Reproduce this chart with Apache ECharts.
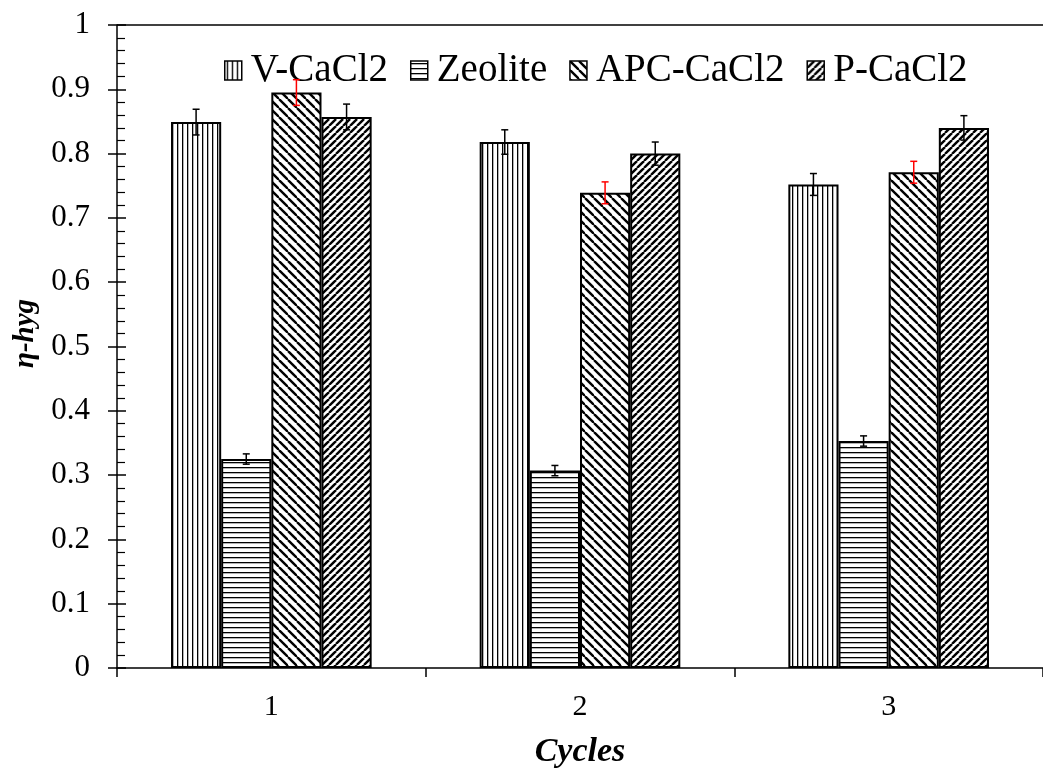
<!DOCTYPE html>
<html>
<head>
<meta charset="utf-8">
<script src="https://cdn.jsdelivr.net/npm/echarts@6/dist/echarts.min.js"></script>
<style>
  html, body { margin: 0; padding: 0; background: #fff; }
  #chart { width: 1043px; height: 774px; }
</style>
</head>
<body>
<div id="chart"></div>
<script>
// Hygroscopic efficiency per cycle for four sorbents
const cycles = ['1', '2', '3'];
const seriesNames = ['V-CaCl2', 'Zeolite', 'APC-CaCl2', 'P-CaCl2'];

const vCaCl2 = [0.849, 0.818, 0.752];
const zeolite = [0.325, 0.307, 0.353];
const apcCaCl2 = [0.895, 0.739, 0.771];
const pCaCl2 = [0.857, 0.800, 0.840];

const vCaCl2Err = [0.020, 0.019, 0.017];
const zeoliteErr = [0.008, 0.008, 0.008];
const apcCaCl2Err = [0.020, 0.017, 0.017];
const pCaCl2Err = [0.020, 0.018, 0.019];

const FONT = 'Liberation Serif';
const CATEGORY_GAP = 0.35;

// Hatch fills drawn on small tiles
function hatch(kind) {
  const c = document.createElement('canvas');
  const ctx = c.getContext('2d');
  let s;
  if (kind === 'vertical') {
    c.width = 5; c.height = 5;
    ctx.fillStyle = '#fff'; ctx.fillRect(0, 0, 5, 5);
    ctx.fillStyle = '#000'; ctx.fillRect(2, 0, 1.3, 5);
  } else if (kind === 'horizontal') {
    c.width = 5; c.height = 5;
    ctx.fillStyle = '#fff'; ctx.fillRect(0, 0, 5, 5);
    ctx.fillStyle = '#000'; ctx.fillRect(0, 2, 5, 1.3);
  } else {
    s = kind === 'back' ? 9 : 7;
    c.width = s; c.height = s;
    ctx.fillStyle = '#fff'; ctx.fillRect(0, 0, s, s);
    ctx.strokeStyle = '#000';
    ctx.lineWidth = 2.4;
    for (const o of [-s, 0, s]) {
      ctx.beginPath();
      if (kind === 'back') { ctx.moveTo(o, 0); ctx.lineTo(o + s, s); }
      else { ctx.moveTo(o, s); ctx.lineTo(o + s, 0); }
      ctx.stroke();
    }
  }
  return { image: c, repeat: 'repeat' };
}

const fills = [hatch('vertical'), hatch('horizontal'), hatch('back'), hatch('forward')];
const values = [vCaCl2, zeolite, apcCaCl2, pCaCl2];
const errors = [vCaCl2Err, zeoliteErr, apcCaCl2Err, pCaCl2Err];
const errColors = ['#000', '#000', '#ff0000', '#000'];

const barSeries = seriesNames.map((name, i) => ({
  name,
  type: 'bar',
  data: values[i],
  barGap: '0%',
  barCategoryGap: (CATEGORY_GAP * 100) + '%',
  itemStyle: { color: fills[i], borderColor: '#000', borderWidth: 2 },
  emphasis: { disabled: true },
  markLine: i === 0 ? {
    silent: true,
    symbol: 'none',
    label: { show: false },
    lineStyle: { color: '#000', width: 1.5, type: 'solid' },
    data: [{ yAxis: 1 }]
  } : undefined
}));

function errorSeries(idx) {
  const color = errColors[idx];
  return {
    type: 'custom',
    name: seriesNames[idx] + ' err',
    z: 10,
    silent: true,
    data: values[idx].map((v, k) => [k, v, errors[idx][k]]),
    encode: { x: 0, y: 1 },
    renderItem(params, api) {
      const cat = api.value(0), v = api.value(1), e = api.value(2);
      const band = api.size([1, 0])[0];
      const barW = band * (1 - CATEGORY_GAP) / seriesNames.length;
      const x = api.coord([cat, v])[0] + (idx - (seriesNames.length - 1) / 2) * barW;
      const yTop = api.coord([cat, v + e])[1];
      const yBot = api.coord([cat, v - e])[1];
      const hw = 3.5;
      const st = { stroke: color, lineWidth: 1.5 };
      return {
        type: 'group',
        children: [
          { type: 'line', shape: { x1: x, y1: yTop, x2: x, y2: yBot }, style: st },
          { type: 'line', shape: { x1: x - hw, y1: yTop, x2: x + hw, y2: yTop }, style: st },
          { type: 'line', shape: { x1: x - hw, y1: yBot, x2: x + hw, y2: yBot }, style: st }
        ]
      };
    }
  };
}

const axisLineStyle = { color: '#000', width: 1.5 };

const option = {
  animation: false,
  backgroundColor: '#fff',
  grid: { left: 117, right: -6, top: 25, bottom: 105, containLabel: false },
  legend: {
    data: seriesNames,
    left: 219,
    top: 46,
    icon: 'rect',
    itemWidth: 17,
    itemHeight: 19,
    itemGap: 22,
    selectedMode: false,
    itemStyle: { borderColor: '#000', borderWidth: 1.5 },
    textStyle: { fontFamily: FONT, fontSize: 39, color: '#000', padding: [0, 0, 0, 4] }
  },
  xAxis: {
    type: 'category',
    data: cycles,
    name: 'Cycles',
    nameLocation: 'middle',
    nameGap: 67,
    nameTextStyle: { fontFamily: FONT, fontSize: 34, fontWeight: 'bold', fontStyle: 'italic', color: '#000' },
    axisLine: { lineStyle: axisLineStyle },
    axisTick: { show: true, length: 9, lineStyle: axisLineStyle, alignWithLabel: false },
    axisLabel: { fontFamily: FONT, fontSize: 30, color: '#000', margin: 24 },
    splitLine: { show: false }
  },
  yAxis: [
    {
      type: 'value',
      min: 0, max: 1, interval: 0.1,
      name: 'η-hyg',
      nameLocation: 'middle',
      nameGap: 69,
      nameTextStyle: { fontFamily: FONT, fontSize: 29, fontWeight: 'bold', fontStyle: 'italic', color: '#000',
        padding: [0, 0, 0, 26] },
      axisLine: { show: true, lineStyle: axisLineStyle },
      axisTick: { show: true, length: 9, lineStyle: axisLineStyle },
      axisLabel: { fontFamily: FONT, fontSize: 31, color: '#000', margin: 27,
        formatter: v => String(Math.round(v * 10) / 10) },
      splitLine: { show: false }
    },
    {
      type: 'value',
      min: 0, max: 1, interval: 0.1,
      position: 'left',
      offset: 0,
      axisLine: { show: false },
      axisTick: { show: true, inside: true, length: 9, lineStyle: axisLineStyle },
      minorTick: { show: true, splitNumber: 5, length: 8, lineStyle: { color: '#000', width: 1.2 } },
      axisLabel: { show: false },
      splitLine: { show: false }
    }
  ],
  series: [...barSeries, ...seriesNames.map((_, i) => errorSeries(i))]
};

const chart = echarts.init(document.getElementById('chart'), null, { renderer: 'canvas' });
chart.setOption(option);
</script>
</body>
</html>
